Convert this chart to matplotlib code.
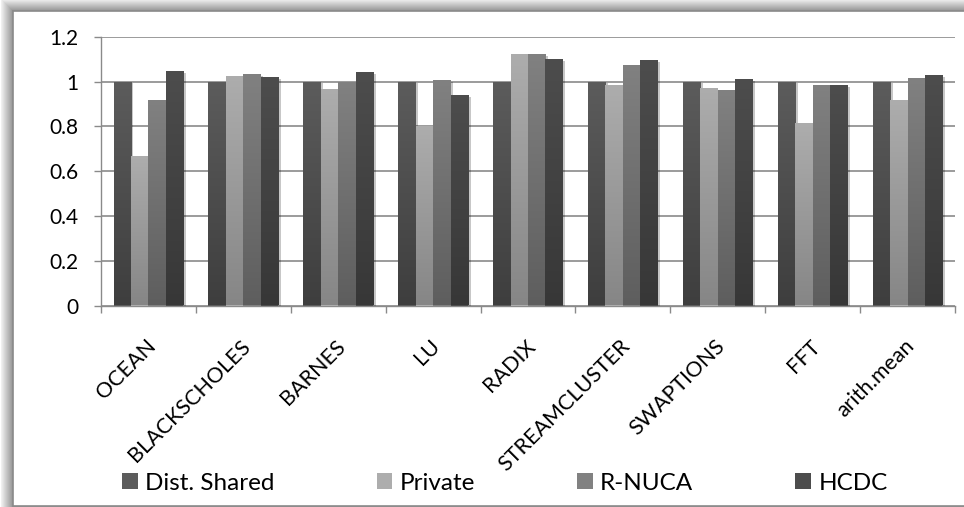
import matplotlib
matplotlib.use("Agg")
import matplotlib.pyplot as plt
import matplotlib.patheffects as pe
import matplotlib.transforms as mtransforms
from matplotlib.colors import LinearSegmentedColormap
from matplotlib.patches import Patch, Rectangle
import numpy as np

categories = ["OCEAN", "BLACKSCHOLES", "BARNES", "LU", "RADIX",
              "STREAMCLUSTER", "SWAPTIONS", "FFT", "arith.mean"]
dist_shared = [1.0, 1.0, 1.0, 1.0, 1.0, 1.0, 1.0, 1.0, 1.0]
private = [0.666, 1.024, 0.966, 0.803, 1.123, 0.984, 0.970, 0.814, 0.917]
rnuca = [0.917, 1.033, 1.000, 1.006, 1.123, 1.073, 0.961, 0.984, 1.015]
hcdc = [1.047, 1.020, 1.042, 0.939, 1.100, 1.096, 1.011, 0.984, 1.029]

series = [
    ("Dist. Shared", dist_shared, ("#5c5c5c", "#3e3e3e")),
    ("Private", private, ("#adadad", "#868686")),
    ("R-NUCA", rnuca, ("#818181", "#5e5e5e")),
    ("HCDC", hcdc, ("#4d4d4d", "#373737")),
]

plt.rcParams["font.family"] = ["Lato", "DejaVu Sans"]

W, H = 964, 507
fig = plt.figure(figsize=(W / 100, H / 100), dpi=100)
fig.patch.set_facecolor("white")

# soft shadow on the top/left of the chart frame, then the frame itself
fx, fy = 13, 11
for i in range(12, 0, -1):
    g = 0.56 + 0.38 * (i / 12)
    fig.patches.append(Rectangle(((fx - i) / W, 0), 1, 1 - (fy - i) / H,
                                 transform=fig.transFigure, facecolor=(g, g, g),
                                 edgecolor="none", zorder=0))
fig.patches.append(Rectangle((fx / W, 1.5 / H), 1, 1 - (fy + 1.5) / H,
                             transform=fig.transFigure, facecolor="white",
                             edgecolor="#8a8a8a", linewidth=1.2, zorder=1))

ax = fig.add_axes([101 / W, 1 - 305.5 / H, (955 - 101) / W, (305.5 - 36.7) / H])
ax.set_facecolor("none")
ax.set_zorder(2)

x = np.arange(len(categories))
width = 0.184
offsets = (np.arange(4) - 1.5) * width

for k, (name, vals, (top, bottom)) in enumerate(series):
    cmap = LinearSegmentedColormap.from_list(name, [top, bottom])
    bars = ax.bar(x + offsets[k], vals, width, color=top, zorder=3,
                  path_effects=[pe.SimplePatchShadow(offset=(1.8, -1.2), alpha=0.22,
                                                     shadow_rgbFace="#000000"),
                                pe.Normal()])
    # vertical gradient fill inside every bar
    for b in bars:
        bx, by, bw, bh = b.get_x(), b.get_y(), b.get_width(), b.get_height()
        im = ax.imshow(np.linspace(0, 1, 256).reshape(-1, 1), cmap=cmap,
                       extent=[bx, bx + bw, by, by + bh], origin="upper",
                       aspect="auto", zorder=4)
        im.set_clip_path(b)

ax.set_xlim(-0.5, len(categories) - 0.5)
ax.set_ylim(0, 1.2)
ax.set_yticks([0, 0.2, 0.4, 0.6, 0.8, 1.0, 1.2])
ax.set_yticklabels(["0", "0.2", "0.4", "0.6", "0.8", "1", "1.2"])
ax.yaxis.grid(True, color="#8a8a8a", linewidth=1.2, zorder=1)
ax.set_axisbelow(True)

for s in ["top", "right"]:
    ax.spines[s].set_visible(False)
ax.spines["left"].set_color("#8a8a8a")
ax.spines["bottom"].set_color("#8a8a8a")
ax.spines["left"].set_linewidth(1.0)
ax.spines["bottom"].set_linewidth(1.0)

ax.tick_params(axis="y", length=5, width=1, color="#8a8a8a", pad=11,
               labelsize=15, labelcolor="black")

ax.set_xticks(x)
ax.set_xticks(np.arange(-0.5, len(categories)), minor=True)
ax.tick_params(axis="x", which="major", length=0, pad=27)
ax.tick_params(axis="x", which="minor", length=5, width=1, color="#8a8a8a")
ax.set_xticklabels(categories, rotation=45, ha="right", va="center",
                   rotation_mode="anchor", fontsize=15.5)
shift = mtransforms.ScaledTranslation(4 / 100, 0, fig.dpi_scale_trans)
for lab in ax.get_xticklabels():
    lab.set_transform(lab.get_transform() + shift)

handles = [Patch(facecolor=c[0], edgecolor="none") for _, _, c in series]
fig.legend(handles, [s[0] for s in series], ncol=4, loc="center left",
           bbox_to_anchor=(122 / W, 1 - 483 / H), frameon=False, fontsize=17.5,
           handlelength=0.65, handleheight=0.65, handletextpad=0.3,
           columnspacing=4.2, borderpad=0, borderaxespad=0)

fig.savefig("out.png", dpi=100)
